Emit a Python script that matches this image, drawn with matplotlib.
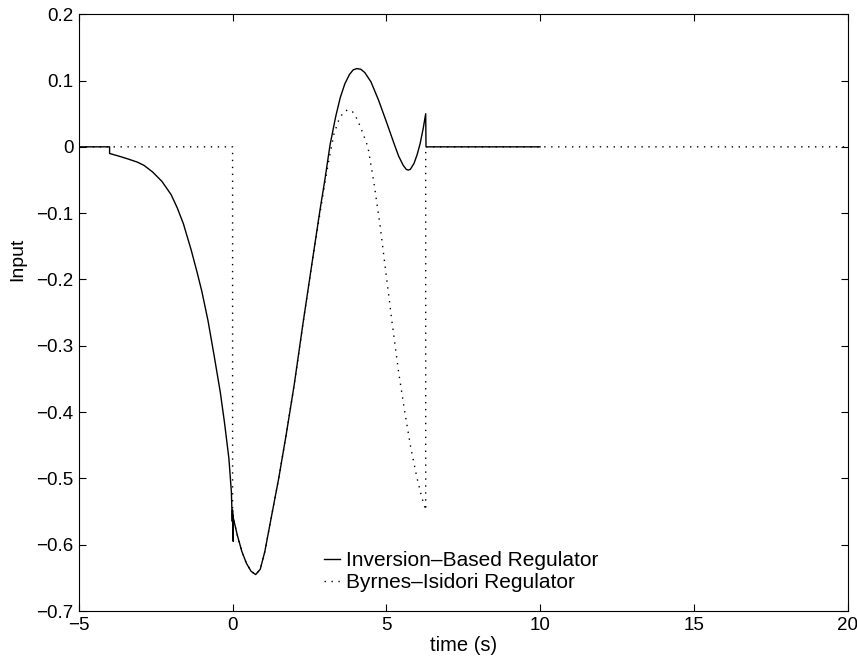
import numpy as np
import matplotlib
matplotlib.use("Agg")
import matplotlib.pyplot as plt
from matplotlib.ticker import FuncFormatter

# Inversion-Based Regulator (solid)
inv_t = [-5.0, -4.0, -4.0, -3.7, -3.42, -3.1, -2.88, -2.6, -2.3, -2.0, -1.8, -1.6,
         -1.35, -1.15, -1.0, -0.8, -0.6, -0.4, -0.26, -0.12, -0.04, -0.01, 0.0, 0.02,
         0.0, 0.15, 0.3, 0.45, 0.6, 0.75, 0.9, 1.05, 1.2, 1.5, 1.75, 2.0, 2.3, 2.6,
         2.85, 3.0, 3.17, 3.35, 3.5, 3.65, 3.8, 3.92, 4.04, 4.17, 4.3, 4.5, 4.75,
         5.0, 5.25, 5.4, 5.55, 5.65, 5.71, 5.78, 5.9, 6.0, 6.1, 6.2, 6.28, 6.29, 10.0]
inv_u = [0.0, 0.0, -0.01, -0.014, -0.018, -0.023, -0.028, -0.038, -0.052, -0.072, -0.092, -0.116,
         -0.155, -0.19, -0.218, -0.262, -0.315, -0.37, -0.417, -0.47, -0.52, -0.565, -0.548, -0.595,
         -0.555, -0.585, -0.61, -0.628, -0.64, -0.645, -0.637, -0.61, -0.573, -0.5, -0.432, -0.36, -0.263, -0.17,
         -0.093, -0.05, 0.003, 0.045, 0.074, 0.095, 0.109, 0.116, 0.118, 0.117, 0.112, 0.098, 0.07,
         0.038, 0.005, -0.014, -0.028, -0.034, -0.035, -0.034, -0.025, -0.012, 0.005, 0.028, 0.05, 0.0, 0.0]

# Byrnes-Isidori Regulator (dotted)
bi_t = [-5.0, 0.0, 0.0, 0.15, 0.3, 0.45, 0.6, 0.75, 0.9, 1.05, 1.2, 1.5, 1.75, 2.0, 2.3, 2.6,
        2.85, 3.0, 3.15, 3.3, 3.45, 3.6, 3.75, 3.9, 4.05, 4.2, 4.4, 4.6, 4.8, 5.0, 5.2, 5.4,
        5.6, 5.8, 6.0, 6.15, 6.28, 6.28, 20.0]
bi_u = [0.0, 0.0, -0.555, -0.585, -0.61, -0.628, -0.64, -0.645, -0.637, -0.61, -0.573, -0.5,
        -0.432, -0.36, -0.263, -0.17, -0.098, -0.055, -0.015, 0.02, 0.04, 0.052, 0.056, 0.053,
        0.042, 0.025, 0.0, -0.055, -0.12, -0.195, -0.27, -0.34, -0.40, -0.455, -0.50, -0.528,
        -0.548, 0.0, 0.0]

x_ticks = [-5, 0, 5, 10, 15, 20]
y_ticks = [-0.7, -0.6, -0.5, -0.4, -0.3, -0.2, -0.1, 0.0, 0.1, 0.2]

plt.rcParams['font.family'] = ['Liberation Sans', 'DejaVu Sans']
plt.rcParams['font.size'] = 13.5

fig = plt.figure(figsize=(8.57, 6.58), dpi=100)
ax = fig.add_axes([0.092, 0.0714, 0.897, 0.907])

ax.plot(inv_t, inv_u, color='black', lw=1.0, label='Inversion\u2013Based Regulator')
ax.plot(bi_t, bi_u, color='black', lw=1.0, ls=(0, (1, 4)), label='Byrnes\u2013Isidori Regulator')

ax.set_xlim(-5, 20)
ax.set_ylim(-0.7, 0.2)
ax.set_xticks(x_ticks)
ax.set_yticks(y_ticks)

def fmt(v, pos):
    if abs(v) < 1e-9:
        return '0'
    return ('%.1f' % v).replace('-', '\u2212')

def fmtx(v, pos):
    return ('%d' % round(v)).replace('-', '\u2212')

ax.yaxis.set_major_formatter(FuncFormatter(fmt))
ax.xaxis.set_major_formatter(FuncFormatter(fmtx))
ax.tick_params(direction='in', top=True, right=True, length=5, width=0.8, pad=4)
for s in ax.spines.values():
    s.set_linewidth(0.8)

ax.set_xlabel('time (s)', labelpad=2, fontsize=14.5)
ax.set_ylabel('Input', fontsize=14)
ax.yaxis.set_label_coords(-0.068, 0.59)

leg = ax.legend(loc='lower left', bbox_to_anchor=(0.294, 0.0), frameon=False,
                handlelength=0.8, handletextpad=0.27, labelspacing=0.15, fontsize=15)

fig.savefig('out.png', dpi=100)
